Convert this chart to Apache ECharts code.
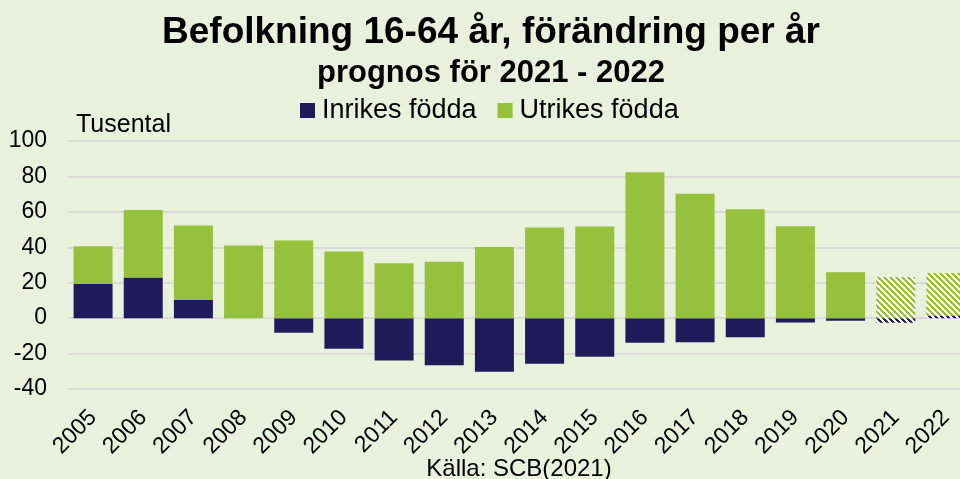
<!DOCTYPE html>
<html>
<head>
<meta charset="utf-8">
<script src="https://cdn.jsdelivr.net/npm/echarts@6/dist/echarts.min.js"></script>
<style>
  html, body { margin: 0; padding: 0; background: #e9f0db; }
  #main { width: 960px; height: 479px; }
</style>
</head>
<body>
<div id="main"></div>
<script>
// år och värden (tusental)
var years = ['2005', '2006', '2007', '2008', '2009', '2010', '2011', '2012', '2013',
  '2014', '2015', '2016', '2017', '2018', '2019', '2020', '2021', '2022'];
var inrikes = [19.3, 23, 10.2, 0, -8.3, -17.3, -23.9, -26.6, -30.2,
  -25.8, -21.8, -13.9, -13.6, -10.8, -2.4, -1.5, -2.6, 1.5];
var utrikes = [21.3, 38.1, 42.1, 41, 43.8, 37.6, 31, 31.9, 40.2,
  51.2, 51.7, 82.3, 70.2, 61.5, 51.9, 25.9, 23.2, 24];
var prognosYears = ['2021', '2022'];

var NAVY = '#201a5b';
var GREEN = '#95c13d';

// randigt mönster för prognosåren
function stripes(color) {
  var c = document.createElement('canvas');
  c.width = 6;
  c.height = 6;
  var ctx = c.getContext('2d');
  ctx.fillStyle = '#ffffff';
  ctx.fillRect(0, 0, 6, 6);
  ctx.fillStyle = color;
  for (var x = 0; x < 6; x++) {
    for (var y = 0; y < 6; y++) {
      if (((x - y + 60) % 6) < 3) ctx.fillRect(x, y, 1, 1);
    }
  }
  return { image: c, repeat: 'repeat' };
}

function withPattern(values, color) {
  return values.map(function (v, i) {
    if (prognosYears.indexOf(years[i]) >= 0) {
      return { value: v, itemStyle: { color: stripes(color) } };
    }
    return v;
  });
}

var chart = echarts.init(document.getElementById('main'));

var option = {
  backgroundColor: '#e9f0db',
  animation: false,
  textStyle: { fontFamily: 'Liberation Sans, Arial, sans-serif', color: '#000' },
  title: [
    {
      text: 'Befolkning 16-64 år, förändring per år',
      left: 486, top: 9, textAlign: 'center',
      textStyle: { fontSize: 37, fontWeight: 'bold', color: '#000', fontFamily: 'Liberation Sans' }
    },
    {
      text: 'prognos för 2021 - 2022',
      left: 486, top: 53, textAlign: 'center',
      textStyle: { fontSize: 31, fontWeight: 'bold', color: '#000', fontFamily: 'Liberation Sans' }
    },
    {
      text: 'Tusental',
      left: 71, top: 108,
      textStyle: { fontSize: 25, fontWeight: 'normal', color: '#000', fontFamily: 'Liberation Sans' }
    },
    {
      text: 'Källa: SCB(2021)',
      left: 514, top: 452, textAlign: 'center',
      textStyle: { fontSize: 24, fontWeight: 'normal', color: '#000', fontFamily: 'Liberation Sans' }
    }
  ],
  legend: {
    top: 92, left: 295,
    itemWidth: 15, itemHeight: 15, itemGap: 21,
    icon: 'rect',
    textStyle: { fontSize: 27, color: '#000', fontFamily: 'Liberation Sans', padding: [0, 0, 0, 2] },
    data: ['Inrikes födda', 'Utrikes födda']
  },
  grid: { left: 68, top: 141, width: 903, height: 248, containLabel: false, outerBoundsMode: 'none' },
  xAxis: {
    type: 'category',
    data: years,
    axisLine: { show: false },
    axisTick: { show: false },
    axisLabel: { rotate: 45, margin: 25, fontSize: 23, color: '#000', interval: 0 }
  },
  yAxis: {
    type: 'value',
    min: -40, max: 100, interval: 20,
    axisLine: { show: false },
    axisTick: { show: false },
    axisLabel: { fontSize: 23, color: '#000', margin: 21 },
    splitLine: { lineStyle: { color: '#d9d9d9', width: 2 } }
  },
  series: [
    {
      name: 'Inrikes födda',
      type: 'bar',
      stack: 'tot',
      barWidth: 39,
      itemStyle: { color: NAVY },
      data: withPattern(inrikes, NAVY)
    },
    {
      name: 'Utrikes födda',
      type: 'bar',
      stack: 'tot',
      barWidth: 39,
      itemStyle: { color: GREEN },
      data: withPattern(utrikes, GREEN)
    }
  ]
};

chart.setOption(option);
</script>
</body>
</html>
